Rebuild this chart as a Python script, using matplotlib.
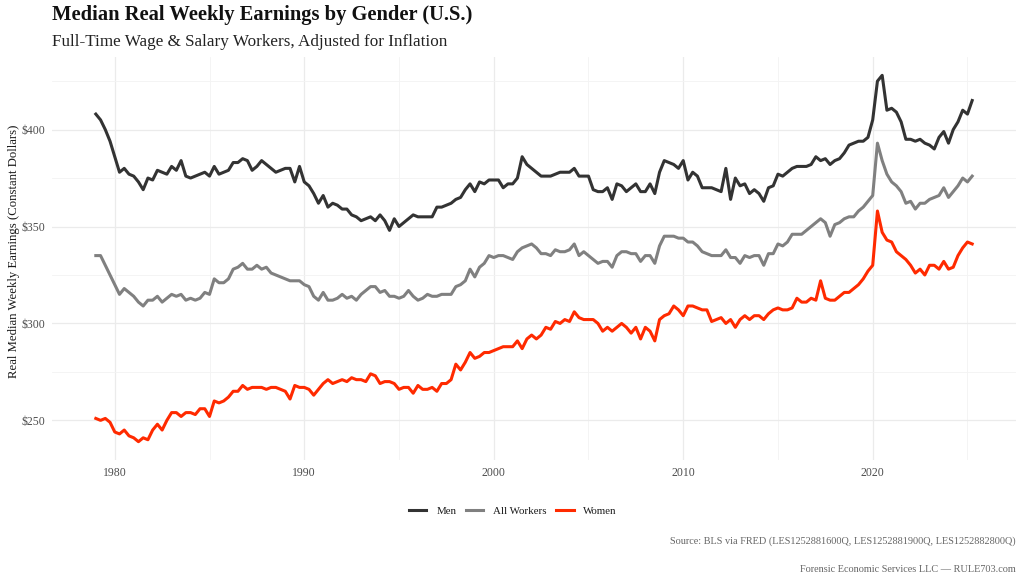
import numpy as np
import pandas as pd
import matplotlib
matplotlib.use("Agg")
import matplotlib.pyplot as plt
from matplotlib.ticker import FixedLocator, FuncFormatter

plt.rcParams['font.family'] = ['Liberation Serif', 'DejaVu Serif']

# quarterly, 1979Q1 .. 2025Q2 (real dollars)
start_q = '1979Q1'

men = [
    408, 405, 400, 394,  386, 378, 380, 377,  376, 373, 369, 375,  374, 379, 378, 377,
    381, 379, 384, 376,  375, 376, 377, 378,  376, 381, 377, 378,  379, 383, 383, 385,
    384, 379, 381, 384,  382, 380, 378, 379,  380, 380, 373, 381,  373, 371, 367, 362,
    366, 360, 362, 361,  359, 359, 356, 355,  353, 354, 355, 353,  356, 353, 348, 354,
    350, 352, 354, 356,  355, 355, 355, 355,  360, 360, 361, 362,  364, 365, 369, 372,
    368, 373, 372, 374,  374, 374, 370, 372,  372, 375, 386, 382,  380, 378, 376, 376,
    376, 377, 378, 378,  378, 380, 376, 376,  376, 369, 368, 368,  370, 364, 372, 371,
    368, 370, 372, 368,  368, 372, 367, 378,  384, 383, 382, 380,  384, 374, 378, 376,
    370, 370, 370, 369,  368, 380, 364, 375,  371, 372, 367, 369,  367, 363, 370, 371,
    377, 376, 378, 380,  381, 381, 381, 382,  386, 384, 385, 382,  384, 385, 388, 392,
    393, 394, 394, 396,  405, 425, 428, 410,  411, 409, 404, 395,  395, 394, 395, 393,
    392, 390, 396, 399,  393, 400, 404, 410,  408, 415,
]

all_workers = [
    335, 335, 330, 325,  320, 315, 318, 316,  314, 311, 309, 312,  312, 314, 311, 313,
    315, 314, 315, 312,  313, 312, 313, 316,  315, 323, 321, 321,  323, 328, 329, 331,
    328, 328, 330, 328,  329, 326, 325, 324,  323, 322, 322, 322,  320, 319, 314, 312,
    316, 312, 312, 313,  315, 313, 314, 312,  315, 317, 319, 319,  316, 317, 314, 314,
    313, 314, 317, 314,  312, 313, 315, 314,  314, 315, 315, 315,  319, 320, 322, 328,
    324, 329, 331, 335,  334, 335, 335, 334,  333, 337, 339, 340,  341, 339, 336, 336,
    335, 338, 337, 337,  338, 341, 335, 337,  335, 333, 331, 332,  332, 329, 335, 337,
    337, 336, 336, 332,  335, 335, 331, 340,  345, 345, 345, 344,  344, 342, 342, 340,
    337, 336, 335, 335,  335, 338, 334, 334,  331, 335, 334, 335,  335, 330, 336, 336,
    341, 340, 342, 346,  346, 346, 348, 350,  352, 354, 352, 345,  351, 352, 354, 355,
    355, 358, 360, 363,  366, 393, 384, 377,  373, 371, 368, 362,  363, 359, 362, 362,
    364, 365, 366, 370,  365, 368, 371, 375,  373, 376,
]

women = [
    251, 250, 251, 249,  244, 243, 245, 242,  241, 239, 241, 240,  245, 248, 245, 250,
    254, 254, 252, 254,  254, 253, 256, 256,  252, 260, 259, 260,  262, 265, 265, 268,
    266, 267, 267, 267,  266, 267, 267, 266,  265, 261, 268, 267,  267, 266, 263, 266,
    269, 271, 269, 270,  271, 270, 272, 271,  271, 270, 274, 273,  269, 270, 270, 269,
    266, 267, 267, 264,  268, 266, 266, 267,  265, 269, 269, 271,  279, 276, 280, 285,
    282, 283, 285, 285,  286, 287, 288, 288,  288, 291, 287, 292,  294, 292, 294, 298,
    297, 301, 300, 302,  301, 306, 303, 302,  302, 302, 300, 296,  298, 296, 298, 300,
    298, 295, 298, 292,  298, 296, 291, 302,  304, 305, 309, 307,  304, 309, 309, 308,
    307, 307, 301, 302,  303, 300, 302, 298,  302, 304, 302, 304,  304, 302, 305, 307,
    308, 307, 307, 308,  313, 311, 311, 313,  312, 322, 313, 312,  312, 314, 316, 316,
    318, 320, 323, 327,  330, 358, 347, 343,  342, 337, 335, 333,  330, 326, 328, 325,
    330, 330, 328, 332,  328, 329, 335, 339,  342, 341,
]

series = [("Men", men, "#333333"),
          ("All Workers", all_workers, "#808080"),
          ("Women", women, "#ff2a00")]

periods = pd.period_range(start_q, periods=len(men), freq='Q')
t = periods.year + (periods.quarter - 1) / 4.0

fig = plt.figure(figsize=(10.24, 5.83), dpi=100)
ax = fig.add_axes([52/1024, 1 - 460/583, 964/1024, 403/583])

for name, vals, col in series:
    ax.plot(t, vals, color=col, lw=2.2, label=name, solid_joinstyle='round')

ax.xaxis.set_major_locator(FixedLocator([1980, 1990, 2000, 2010, 2020]))
ax.xaxis.set_minor_locator(FixedLocator([1985, 1995, 2005, 2015, 2025]))
ax.yaxis.set_major_locator(FixedLocator([250, 300, 350, 400]))
ax.yaxis.set_minor_locator(FixedLocator([275, 325, 375, 425]))
ax.yaxis.set_major_formatter(FuncFormatter(lambda v, p: f"${v:.0f}"))

ax.grid(which='major', color='#ebebeb', lw=0.9)
ax.grid(which='minor', color='#f3f3f3', lw=0.6)
ax.set_axisbelow(True)
for s in ax.spines.values():
    s.set_visible(False)
ax.tick_params(which='both', length=0, labelsize=8.5, colors='#4d4d4d', pad=5)

fig.text(14/1024, 1 - 251/583, "Real Median Weekly Earnings (Constant Dollars)",
         rotation=90, ha='center', va='center', fontsize=9.2, color='#1a1a1a')

fig.text(52/1024, 1 - 15/583, "Median Real Weekly Earnings by Gender (U.S.)",
         ha='left', va='center', fontsize=14.8, fontweight='bold', color='#111111')
fig.text(52/1024, 1 - 42/583, "Full-Time Wage & Salary Workers, Adjusted for Inflation",
         ha='left', va='center', fontsize=12.3, color='#222222')

leg = fig.legend(loc='center', bbox_to_anchor=(513/1024, 1 - 511/583), ncol=3,
                 frameon=False, fontsize=7.8, handlelength=1.6, handletextpad=0.9,
                 columnspacing=0.9)
for txt in leg.get_texts():
    txt.set_color('#1a1a1a')

fig.text(1016/1024, 1 - 541/583,
         "Source: BLS via FRED (LES1252881600Q, LES1252881900Q, LES1252882800Q)",
         ha='right', va='center', fontsize=7.4, color='#666666')
fig.text(1016/1024, 1 - 569/583, "Forensic Economic Services LLC \u2014 RULE703.com",
         ha='right', va='center', fontsize=7.4, color='#666666')

fig.savefig("out.png", dpi=100, facecolor='white')
